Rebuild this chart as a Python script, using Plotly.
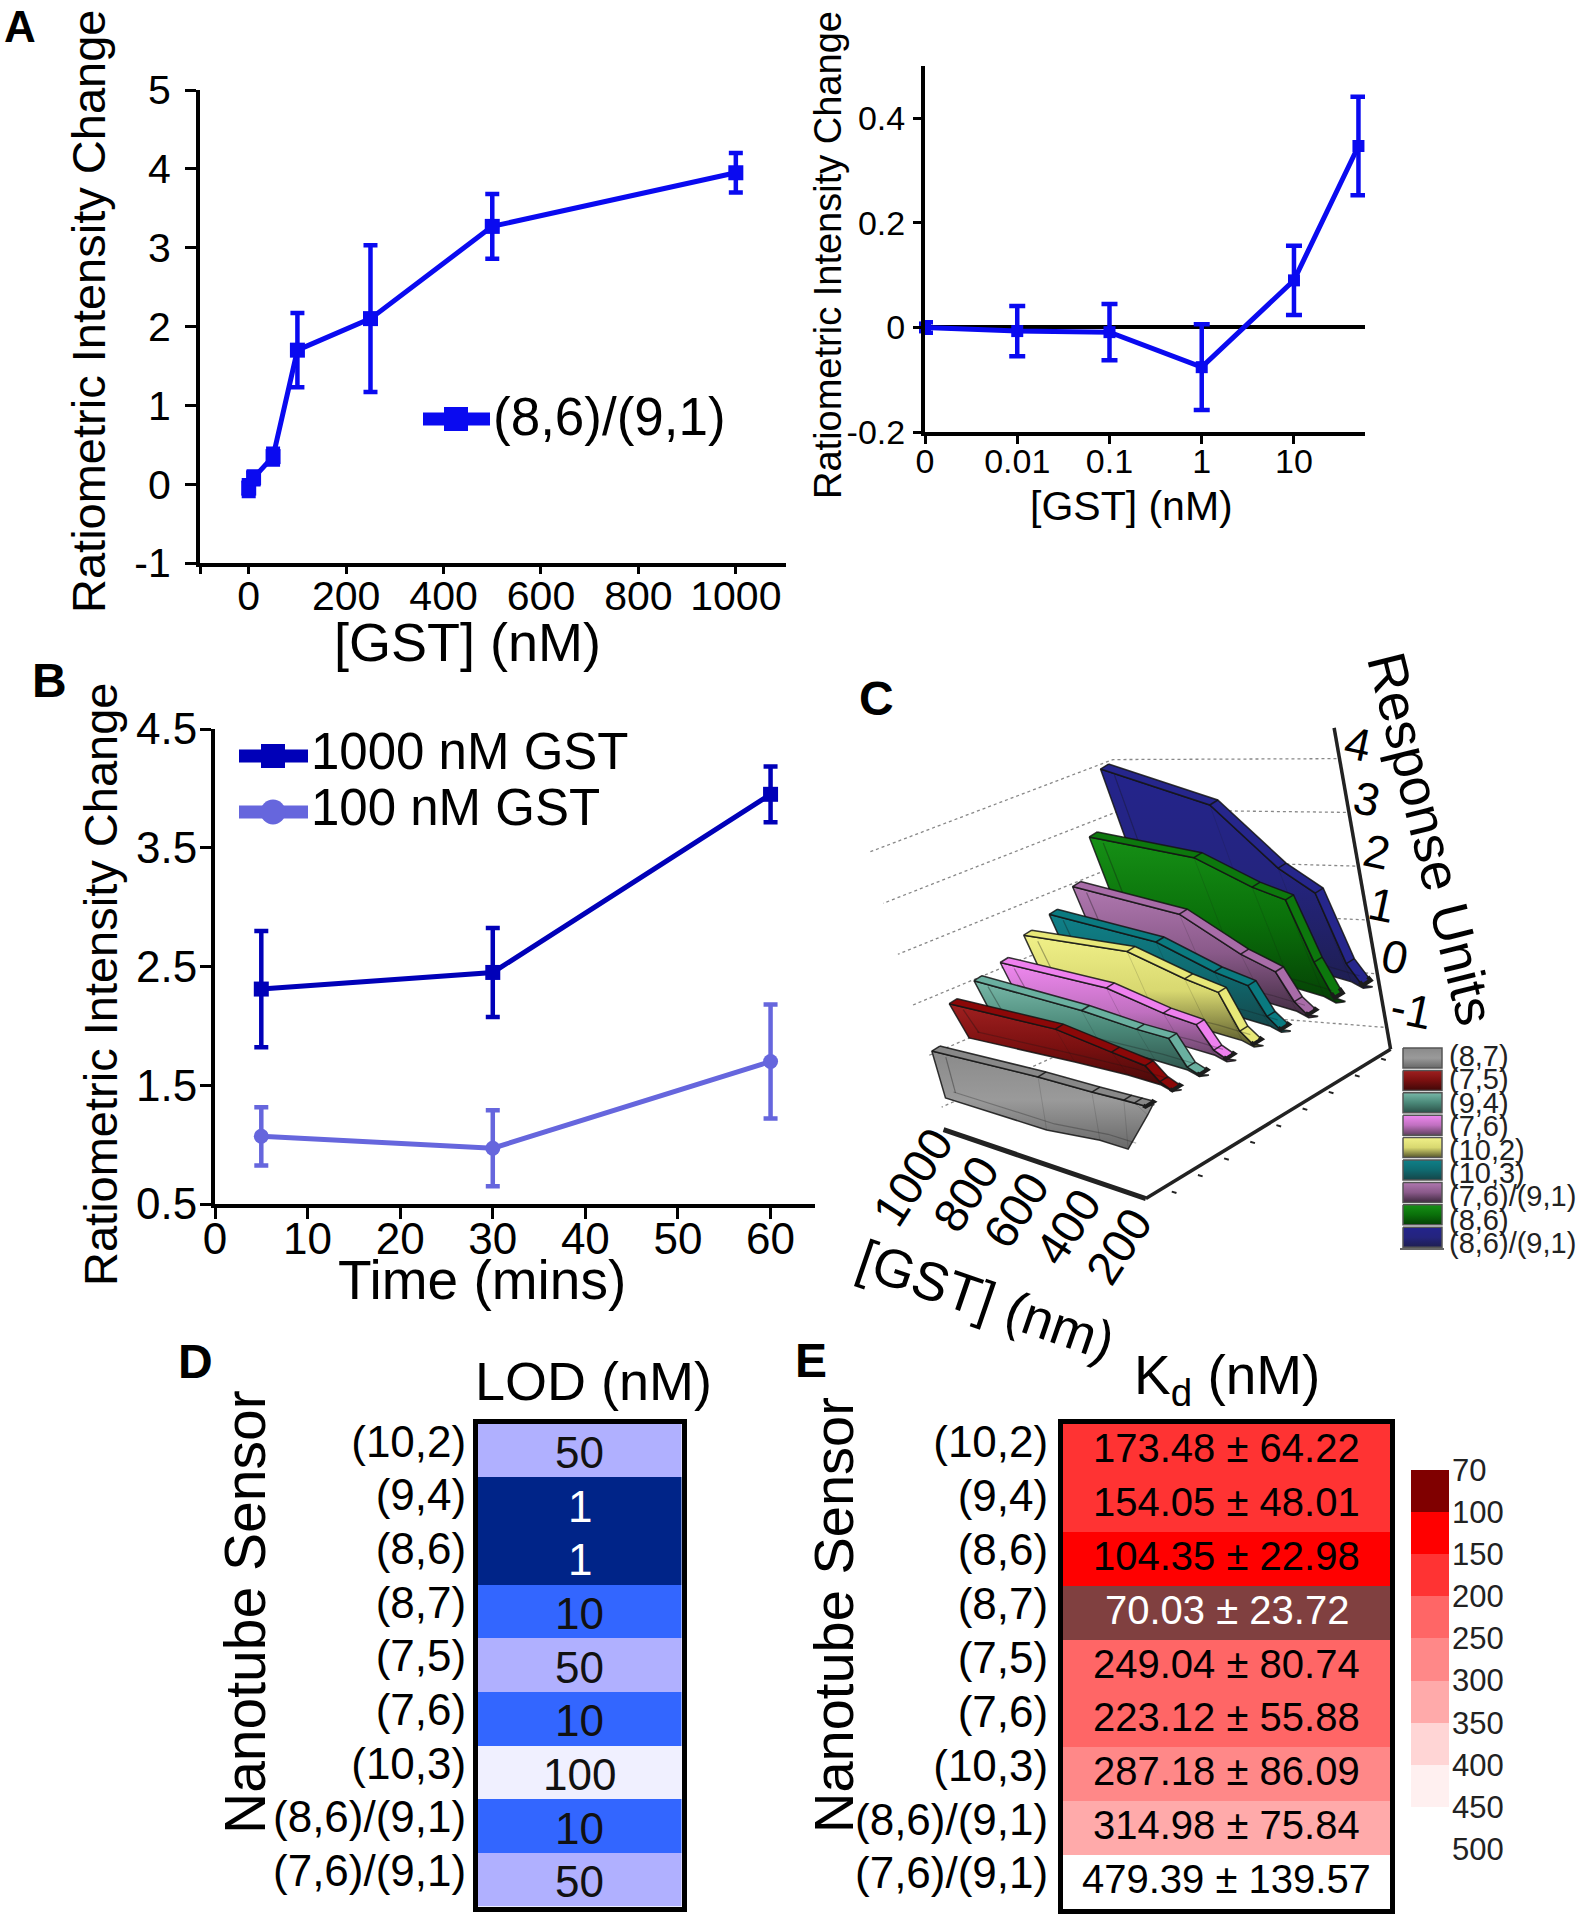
import plotly.graph_objects as go
import numpy as np

W, H = 1578, 1920
FONT = "Liberation Sans"

# ---------- data ----------
A_x = [0, 10, 50, 100, 250, 500, 1000]
A_y = [-0.05, 0.08, 0.35, 1.70, 2.10, 3.27, 3.95]
A_err = [0.1, 0.08, 0.1, 0.47, 0.93, 0.41, 0.25]

IN_conc = [0, 0.01, 0.1, 1, 10, 50]
IN_y = [0.0, -0.007, -0.009, -0.076, 0.09, 0.347]
IN_err = [0.01, 0.048, 0.054, 0.082, 0.066, 0.094]

B_t = [5, 30, 60]
B_1000 = [2.31, 2.45, 3.95]
B_1000_err = [0.49, 0.375, 0.235]
B_100 = [1.07, 0.97, 1.70]
B_100_err = [0.245, 0.32, 0.48]

C_gst = [1000, 500, 250, 100, 50, 10, 0]
C_names = ["(8,7)", "(7,5)", "(9,4)", "(7,6)", "(10,2)", "(10,3)", "(7,6)/(9,1)", "(8,6)", "(8,6)/(9,1)"]
C_z = [
    [0.39, 0.27, 0.16, 0.12, 0.10, 0.08, 0.06],
    [1.14, 1.03, 0.74, 0.57, 0.25, 0.12, 0.10],
    [1.33, 1.12, 0.93, 0.86, 0.25, 0.15, 0.12],
    [1.41, 1.30, 0.96, 0.84, 0.30, 0.18, 0.15],
    [1.70, 1.80, 1.41, 1.24, 0.40, 0.18, 0.15],
    [1.84, 1.68, 1.23, 1.06, 0.40, 0.18, 0.15],
    [2.14, 1.98, 1.30, 1.04, 0.40, 0.18, 0.15],
    [2.94, 2.94, 2.50, 2.35, 0.97, 0.30, 0.20],
    [4.16, 3.81, 2.60, 2.17, 0.60, 0.22, 0.15],
]
C_floor_front = [-0.80, -1.06, -1.06, -1.12, -0.29, -0.03, 0.0]
C_floor_front_dx = [-10, -17, -16, -20, 0, 0, 0]
C_floor = [0.24, 0.16, 0.10, 0.02, -0.08, -0.02, 0.0]
C_strip = ["#888888", "#8b0808", "#6ab0a0", "#ee80ee", "#e8e878", "#0a7a80", "#a86ca8", "#0d780d", "#26268c"]
C_top = ["#8a8a8a", "#a02020", "#78b8a8", "#f088f0", "#f0f088", "#0f8088", "#b078b0", "#169016", "#24248c"]
C_mid = ["#9a9a9a", "#7a1010", "#4a8878", "#c070c0", "#d8d870", "#0f6a70", "#8a5a8a", "#0a700a", "#24247e"]
C_bot = ["#686868", "#400808", "#2c5048", "#60405f", "#55552a", "#154548", "#3f2a3f", "#054005", "#1e1e50"]
C_ztick = [4, 3, 2, 1, 0, -1]
C_gtick = [1000, 800, 600, 400, 200]

sensors = ["(10,2)", "(9,4)", "(8,6)", "(8,7)", "(7,5)", "(7,6)", "(10,3)", "(8,6)/(9,1)", "(7,6)/(9,1)"]
LOD = [50, 1, 1, 10, 50, 10, 100, 10, 50]
LOD_levels = [1, 10, 50, 100]
LOD_colors = ["#002488", "#3366ff", "#b0b0ff", "#f0f0ff"]
Kd = [173.48, 154.05, 104.35, 70.03, 249.04, 223.12, 287.18, 314.98, 479.39]
Kd_err = [64.22, 48.01, 22.98, 23.72, 80.74, 55.88, 86.09, 75.84, 139.57]
Kd_levels = [70, 100, 150, 200, 250, 300, 350, 400, 450, 500]
Kd_bar_colors = ["#800000", "#ff0000", "#ff3333", "#ff6666", "#ff8888", "#ffaaaa", "#ffd5d5", "#fff0f0", "#ffffff"]
Kd_cell_colors = ["#804040"] + Kd_bar_colors[1:]

# ---------- helpers ----------
fig = go.Figure()
layout = {}
n_ax = [0]


def new_axes(x0, x1, y0, y1, xa, ya):
    n_ax[0] += 1
    k = n_ax[0]
    sx = "" if k == 1 else str(k)
    xa = dict(xa, domain=[x0 / W, x1 / W], anchor="y" + sx, automargin=False)
    ya = dict(ya, domain=[1 - y1 / H, 1 - y0 / H], anchor="x" + sx, automargin=False)
    layout["xaxis" + sx] = xa
    layout["yaxis" + sx] = ya
    return "x" + sx, "y" + sx


annots = []


def text(s, px, py, size, angle=0, color="black", bold=False, xanchor="center"):
    annots.append(dict(text=("<b>%s</b>" % s) if bold else s, x=px / W, y=1 - py / H, xref="paper", yref="paper",
                       xanchor=xanchor, yanchor="middle", showarrow=False, textangle=angle,
                       font=dict(family=FONT, size=size, color=color)))


def axstyle(**kw):
    d = dict(showgrid=False, zeroline=False, showline=True, linecolor="black", ticks="outside",
             tickcolor="black", tickfont=dict(family=FONT, size=41, color="black"))
    d.update(kw)
    return d


# ---------- panel A ----------
xa, ya = new_axes(200, 786, 90, 563,
                  axstyle(range=[-100, 1103], linewidth=4, tickwidth=3, ticklen=7, tickmode="array",
                          tickvals=[0, 200, 400, 600, 800, 1000],
                          ticktext=["0", "200", "400", "600", "800", "1000"], ticklabelstandoff=-13,
                          minor=dict(tickmode="array", tickvals=[-100], ticks="outside", ticklen=7, tickwidth=3,
                                     tickcolor="black", showgrid=False)),
                  axstyle(range=[-1, 5], linewidth=4, tickwidth=3, ticklen=11, tickmode="array",
                          tickvals=[-1, 0, 1, 2, 3, 4, 5], ticktext=["-1", "0", "1", "2", "3", "4", "5"],
                          ticklabelstandoff=6))
BLUE = "#0a0af0"
fig.add_trace(go.Scatter(x=A_x, y=A_y, xaxis=xa, yaxis=ya, mode="lines+markers",
                         line=dict(color=BLUE, width=5), marker=dict(symbol="square", size=15, color=BLUE),
                         error_y=dict(type="data", array=A_err, color=BLUE, thickness=4.5, width=7), cliponaxis=False))
text("Ratiometric Intensity Change", 89, 312, 47, angle=-90)
text("[GST] (nM)", 468, 642, 54)

# ---------- inset ----------
in_pos = [0 if c == 0 else np.log10(c) + 3 for c in IN_conc]
xa, ya = new_axes(925, 1365, 66, 432,
                  axstyle(range=[0, 4.77], linewidth=4, tickwidth=3, ticklen=8, tickmode="array",
                          tickvals=in_pos[:5], ticktext=["0", "0.01", "0.1", "1", "10"],
                          tickfont=dict(family=FONT, size=34, color="black"), ticklabelstandoff=-12),
                  axstyle(range=[-0.2, 0.5], linewidth=4, tickwidth=3, ticklen=8, tickmode="array",
                          tickvals=[-0.2, 0, 0.2, 0.4], ticktext=["-0.2", "0", "0.2", "0.4"],
                          tickfont=dict(family=FONT, size=34, color="black"), ticklabelstandoff=1,
                          zeroline=True, zerolinecolor="black", zerolinewidth=4))
fig.add_trace(go.Scatter(x=in_pos, y=IN_y, xaxis=xa, yaxis=ya, mode="lines+markers",
                         line=dict(color=BLUE, width=5), marker=dict(symbol="square", size=12, color=BLUE),
                         error_y=dict(type="data", array=IN_err, color=BLUE, thickness=4.5, width=8), cliponaxis=False))
text("Ratiometric Intensity Change", 828, 255, 38, angle=-90)
text("[GST] (nM)", 1131, 506, 41)

# ---------- panel B ----------
DK, LT = "#0000b8", "#6666dd"
xa, ya = new_axes(215, 815, 729, 1204,
                  axstyle(range=[0, 64.8], linewidth=4, tickwidth=3, ticklen=11, tickmode="array",
                          tickvals=[0, 10, 20, 30, 40, 50, 60], ticktext=["0", "10", "20", "30", "40", "50", "60"],
                          tickfont=dict(family=FONT, size=44, color="black"), ticklabelstandoff=-18),
                  axstyle(range=[0.5, 4.5], linewidth=4, tickwidth=3, ticklen=11, tickmode="array",
                          tickvals=[0.5, 1.5, 2.5, 3.5, 4.5], ticktext=["0.5", "1.5", "2.5", "3.5", "4.5"],
                          tickfont=dict(family=FONT, size=44, color="black"), ticklabelstandoff=-6))
fig.add_trace(go.Scatter(x=B_t, y=B_100, xaxis=xa, yaxis=ya, mode="lines+markers",
                         line=dict(color=LT, width=5), marker=dict(symbol="circle", size=15, color=LT),
                         error_y=dict(type="data", array=B_100_err, color=LT, thickness=4.5, width=7), cliponaxis=False))
fig.add_trace(go.Scatter(x=B_t, y=B_1000, xaxis=xa, yaxis=ya, mode="lines+markers",
                         line=dict(color=DK, width=5), marker=dict(symbol="square", size=15, color=DK),
                         error_y=dict(type="data", array=B_1000_err, color=DK, thickness=4.5, width=7), cliponaxis=False))
text("Ratiometric Intensity Change", 100, 985, 47, angle=-90)
text("Time (mins)", 482, 1280, 55)
text("1000 nM GST", 309, 752, 51, xanchor="left")
text("100 nM GST", 309, 807, 51, xanchor="left")

# ---------- overlay in page pixels: panel C and small keys ----------
ox, oy = new_axes(0, W, 0, H, dict(range=[0, W], visible=False), dict(range=[H, 0], visible=False))


def z2p(zx, zy):
    return zx / 2.125 + 840, zy / 2.178 + 620


def proj(gst, row, z):
    return z2p(668 + 58 * row - 0.445 * gst - 28 * z, 1055 - 32 * row - 0.09 * gst - 95 * z)


def poly(pts, **kw):
    fig.add_trace(go.Scatter(x=[p[0] for p in pts], y=[p[1] for p in pts], xaxis=ox, yaxis=oy,
                             mode="lines", hoverinfo="skip", **kw))


# key lines of panels A and B
poly([(423, 419), (490, 419)], line=dict(color=BLUE, width=13))
poly([(456, 419)], marker=dict(symbol="square", size=24, color=BLUE))
fig.data[-1].mode = "markers"
text("(8,6)/(9,1)", 491, 417, 53, xanchor="left")
poly([(239, 756), (308, 756)], line=dict(color=DK, width=13))
poly([(273, 756)], marker=dict(symbol="square", size=24, color=DK))
fig.data[-1].mode = "markers"
poly([(239, 812), (308, 812)], line=dict(color=LT, width=13))
poly([(273, 812)], marker=dict(symbol="circle", size=25, color=LT))
fig.data[-1].mode = "markers"

# dotted grid of C


def grid_r(z):
    return z2p(1135 - 20 * z, 770 - 117 * z)


def grid_c(z):
    return z2p(660 - 20 * z, 740 - 109 * z)


def grid_l(z):
    return z2p(185 - 31 * z, 950 - 111 * z)


for z in C_ztick:
    poly([grid_r(z), grid_c(z), grid_l(z)], line=dict(color="#888888", width=1.3, dash="dot"))

# axes of C
AX = "#222222"
poly([z2p(1050, 235), z2p(1170, 935)], line=dict(color=AX, width=3.5))
poly([z2p(650, 1260), z2p(1170, 935)], line=dict(color=AX, width=3.5))
poly([z2p(220, 1110), z2p(650, 1260)], line=dict(color=AX, width=5))
for i in range(9):
    a = (705 + i * 55.6, 1245 - i * 36.2)
    poly([z2p(*a), z2p(a[0] + 10, a[1] + 3)], line=dict(color=AX, width=2))
z_lab = {4: (1100, 270), 3: (1120, 390), 2: (1142, 505), 1: (1152, 620), 0: (1180, 735), -1: (1215, 850)}
for z in C_ztick:
    px, py = z2p(*z_lab[z])
    text(str(z), px, py, 46, angle=12)
g_lab = {1000: (155, 1212), 800: (268, 1250), 600: (375, 1285), 400: (485, 1322), 200: (592, 1365)}
for g in C_gtick:
    px, py = z2p(*g_lab[g])
    text(str(g), px, py, 47, angle=-57)
px, py = z2p(312, 1480)
text("[GST] (nm)", px, py, 54, angle=19)
px, py = z2p(1256, 475)
text("Response Units", px, py, 54, angle=76)
text("<b>C</b>", 876, 698, 48)
text("<b>A</b>", 20, 26, 44)
text("<b>B</b>", 49, 680, 48)
text("<b>D</b>", 195, 1361, 48)
text("<b>E</b>", 811, 1360, 48)

# ribbons, back to front
EDGE = "rgba(20,20,20,0.85)"
for r in range(8, -1, -1):
    zs = C_z[r]
    fl = C_floor_front if r == 0 else C_floor
    dxs = C_floor_front_dx if r == 0 else [0] * 7
    top = [proj(g, r, z) for g, z in zip(C_gst, zs)]
    low = [(proj(g, r, z)[0] + d, proj(g, r, z)[1]) for g, z, d in zip(C_gst, fl, dxs)]
    inner = [(p[0] - 8, p[1] + 5) for p in top]
    ytop = min(p[1] for p in inner)
    ybot = max(p[1] for p in low)
    grad = dict(type="vertical", colorscale=[[0, C_top[r]], [0.5, C_mid[r]], [1, C_bot[r]]], start=ytop, stop=ybot)
    poly(inner + low[::-1] + inner[:1], fill="toself", fillgradient=grad, line=dict(color=EDGE, width=1.5))
    poly(top + inner[::-1] + top[:1], fill="toself", fillcolor=C_strip[r], line=dict(color=EDGE, width=1.5))
    for k in range(1, 5):
        poly([inner[k], top[k]], line=dict(color=EDGE, width=1.5))
        poly([inner[k], low[k]], line=dict(color="rgba(20,20,20,0.15)", width=1))
    poly([(inner[0][0] + 14, inner[0][1] + 6), (low[0][0] + 10, low[0][1] - 5)],
         line=dict(color="rgba(20,20,20,0.35)", width=1.2))
    poly([(low[k][0] + 8, low[k][1] - 6) for k in range(4)], line=dict(color="rgba(20,20,20,0.28)", width=1.2))
    poly(top[5:] + inner[5:][::-1], line=dict(color="#1c1c1c", width=4))

# key of C
for i, nm in enumerate(C_names):
    y0 = 1048 + i * 22.4
    y1 = y0 + 20
    poly([(1403, y0), (1442, y0), (1442, y1), (1403, y1), (1403, y0)], fill="toself",
         fillgradient=dict(type="vertical", colorscale=[[0, C_top[i]], [0.5, C_mid[i]], [1, C_bot[i]]], start=y0, stop=y1),
         line=dict(color="#555555", width=1.5))
    text(nm, 1447, 1056 + i * 23.4, 29, xanchor="left", color="#222222")
poly([(1400, 1249), (1444, 1249)], line=dict(color="#333333", width=1.5))


# ---------- heat maps ----------
def discrete_scale(colors):
    n = len(colors)
    sc = []
    for i, c in enumerate(colors):
        sc += [[i / n, c], [(i + 1) / n, c]]
    return sc


def heat_axes(x0, x1, y0, y1, standoff):
    return new_axes(x0, x1, y0, y1,
                    dict(range=[-0.5, 0.5], showticklabels=False, ticks="", showgrid=False, zeroline=False,
                         showline=True, mirror=True, linecolor="black", linewidth=5),
                    dict(range=[8.5, -0.5], tickmode="array", tickvals=list(range(9)), ticktext=sensors, ticks="",
                         showgrid=False, zeroline=False, showline=True, mirror=True, linecolor="black", linewidth=5,
                         tickfont=dict(family=FONT, size=44, color="black"), ticklabelstandoff=standoff,
                         ticklabelshift=9))


xa, ya = heat_axes(478, 681.5, 1423.5, 1906.5, -2)
fig.add_trace(go.Heatmap(x=[0], y=list(range(9)), z=[[LOD_levels.index(v)] for v in LOD], xaxis=xa, yaxis=ya,
                         colorscale=discrete_scale(LOD_colors), zmin=-0.5, zmax=3.5, showscale=False, hoverinfo="skip"))
for i, v in enumerate(LOD):
    annots.append(dict(text=str(v), x=0, y=i, xref=xa, yref=ya, showarrow=False, yshift=-2,
                       font=dict(family=FONT, size=44, color="white" if v == 1 else "#111111")))
text("LOD (nM)", 593, 1381, 54)
text("Nanotube Sensor", 245, 1612, 57, angle=-90)

xa, ya = heat_axes(1063, 1390, 1424, 1909, 1)
kd_idx = [int(np.digitize(v, Kd_levels)) - 1 for v in Kd]
fig.add_trace(go.Heatmap(x=[0], y=list(range(9)), z=[[k] for k in kd_idx], xaxis=xa, yaxis=ya,
                         colorscale=discrete_scale(Kd_cell_colors), zmin=-0.5, zmax=8.5, showscale=False,
                         hoverinfo="skip"))
for i, (v, e) in enumerate(zip(Kd, Kd_err)):
    annots.append(dict(text="%.2f ± %.2f" % (v, e), x=0, y=i, xref=xa, yref=ya, showarrow=False, yshift=3,
                       font=dict(family=FONT, size=40, color="white" if v < 100 else "black")))
text("K<sub>d</sub> (nM)", 1227, 1379, 55)
text("Nanotube Sensor", 833, 1615, 56, angle=-90)

# colour bar of E
xa, ya = new_axes(1411, 1449, 1470, 1849,
                  dict(range=[-0.5, 0.5], visible=False),
                  dict(range=[9, 0], side="right", tickmode="array", tickvals=list(range(10)),
                       ticktext=[str(v) for v in Kd_levels], ticks="", showgrid=False, zeroline=False, showline=False,
                       tickfont=dict(family=FONT, size=31, color="#222222"), ticklabelstandoff=2))
fig.add_trace(go.Heatmap(x=[0], y=[i + 0.5 for i in range(9)], z=[[i] for i in range(9)], xaxis=xa, yaxis=ya,
                         colorscale=discrete_scale(Kd_bar_colors), zmin=-0.5, zmax=8.5, showscale=False,
                         hoverinfo="skip"))

fig.update_layout(template="none", width=W, height=H, autosize=False, margin=dict(l=0, r=0, t=0, b=0, pad=0,
                  autoexpand=False), showlegend=False,
                  plot_bgcolor="rgba(0,0,0,0)", paper_bgcolor="white", annotations=annots, **layout)
fig.write_html("out.html", config=dict(displayModeBar=False, responsive=False),
               post_script="document.body.style.margin='0';document.documentElement.style.margin='0';")
